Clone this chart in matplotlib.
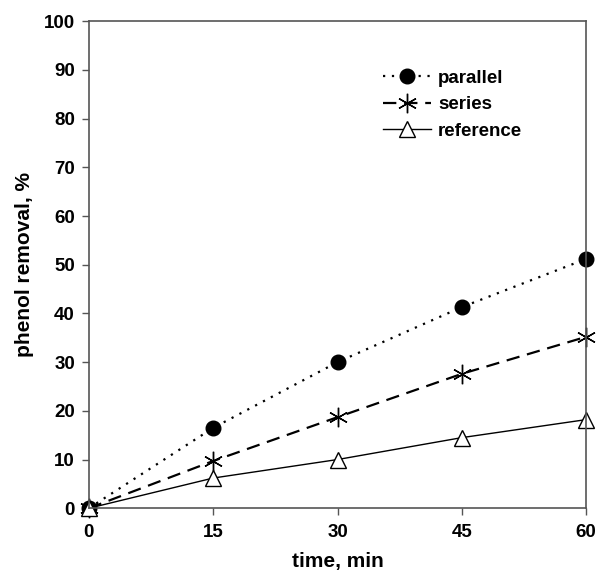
import matplotlib
matplotlib.use("Agg")
import matplotlib.pyplot as plt

time = [0, 15, 30, 45, 60]
parallel = [0, 16.5, 30.0, 41.3, 51.2]
series = [0, 9.7, 18.7, 27.6, 35.2]
reference = [0, 6.2, 10.0, 14.5, 18.2]

plt.rcParams['font.family'] = ['Liberation Sans', 'DejaVu Sans']
plt.rcParams['font.weight'] = 'bold'

fig = plt.figure(figsize=(6, 5.73), dpi=100)
ax = fig.add_axes([0.148, 0.113, 0.829, 0.850])

ax.plot(time, parallel, linestyle=(0, (1, 3)), color='black', lw=1.6,
        marker='o', markersize=10.5, markerfacecolor='black', label='parallel', clip_on=False)
ax.plot(time, series, linestyle=(0, (6, 3.5)), color='black', lw=1.6,
        marker=(6, 2, 0), markersize=14, markeredgewidth=1.0, label='series', clip_on=False)
ax.plot(time, reference, linestyle='-', color='black', lw=1.0,
        marker='^', markersize=11, markerfacecolor='white', markeredgewidth=1.0,
        label='reference', clip_on=False)

ax.set_xlim(0, 60)
ax.set_ylim(0, 100)
ax.set_xticks([0, 15, 30, 45, 60])
ax.set_yticks(range(0, 101, 10))
ax.tick_params(direction='out', length=5, width=1, colors='#555555', labelcolor='black',
               labelsize=13.5, pad=5)
ax.tick_params(axis='x', pad=6)
for s in ax.spines.values():
    s.set_color('#555555')
    s.set_linewidth(1.2)

ax.set_xlabel('time, min', fontsize=15, fontweight='bold', labelpad=8)
ax.set_ylabel('phenol removal, %', fontsize=15, fontweight='bold', labelpad=7)

leg = ax.legend(loc='upper left', bbox_to_anchor=(0.557, 0.935), frameon=False,
                fontsize=13.5, handlelength=2.6, handletextpad=0.35, labelspacing=0.5)

fig.savefig('out.png', dpi=100)
